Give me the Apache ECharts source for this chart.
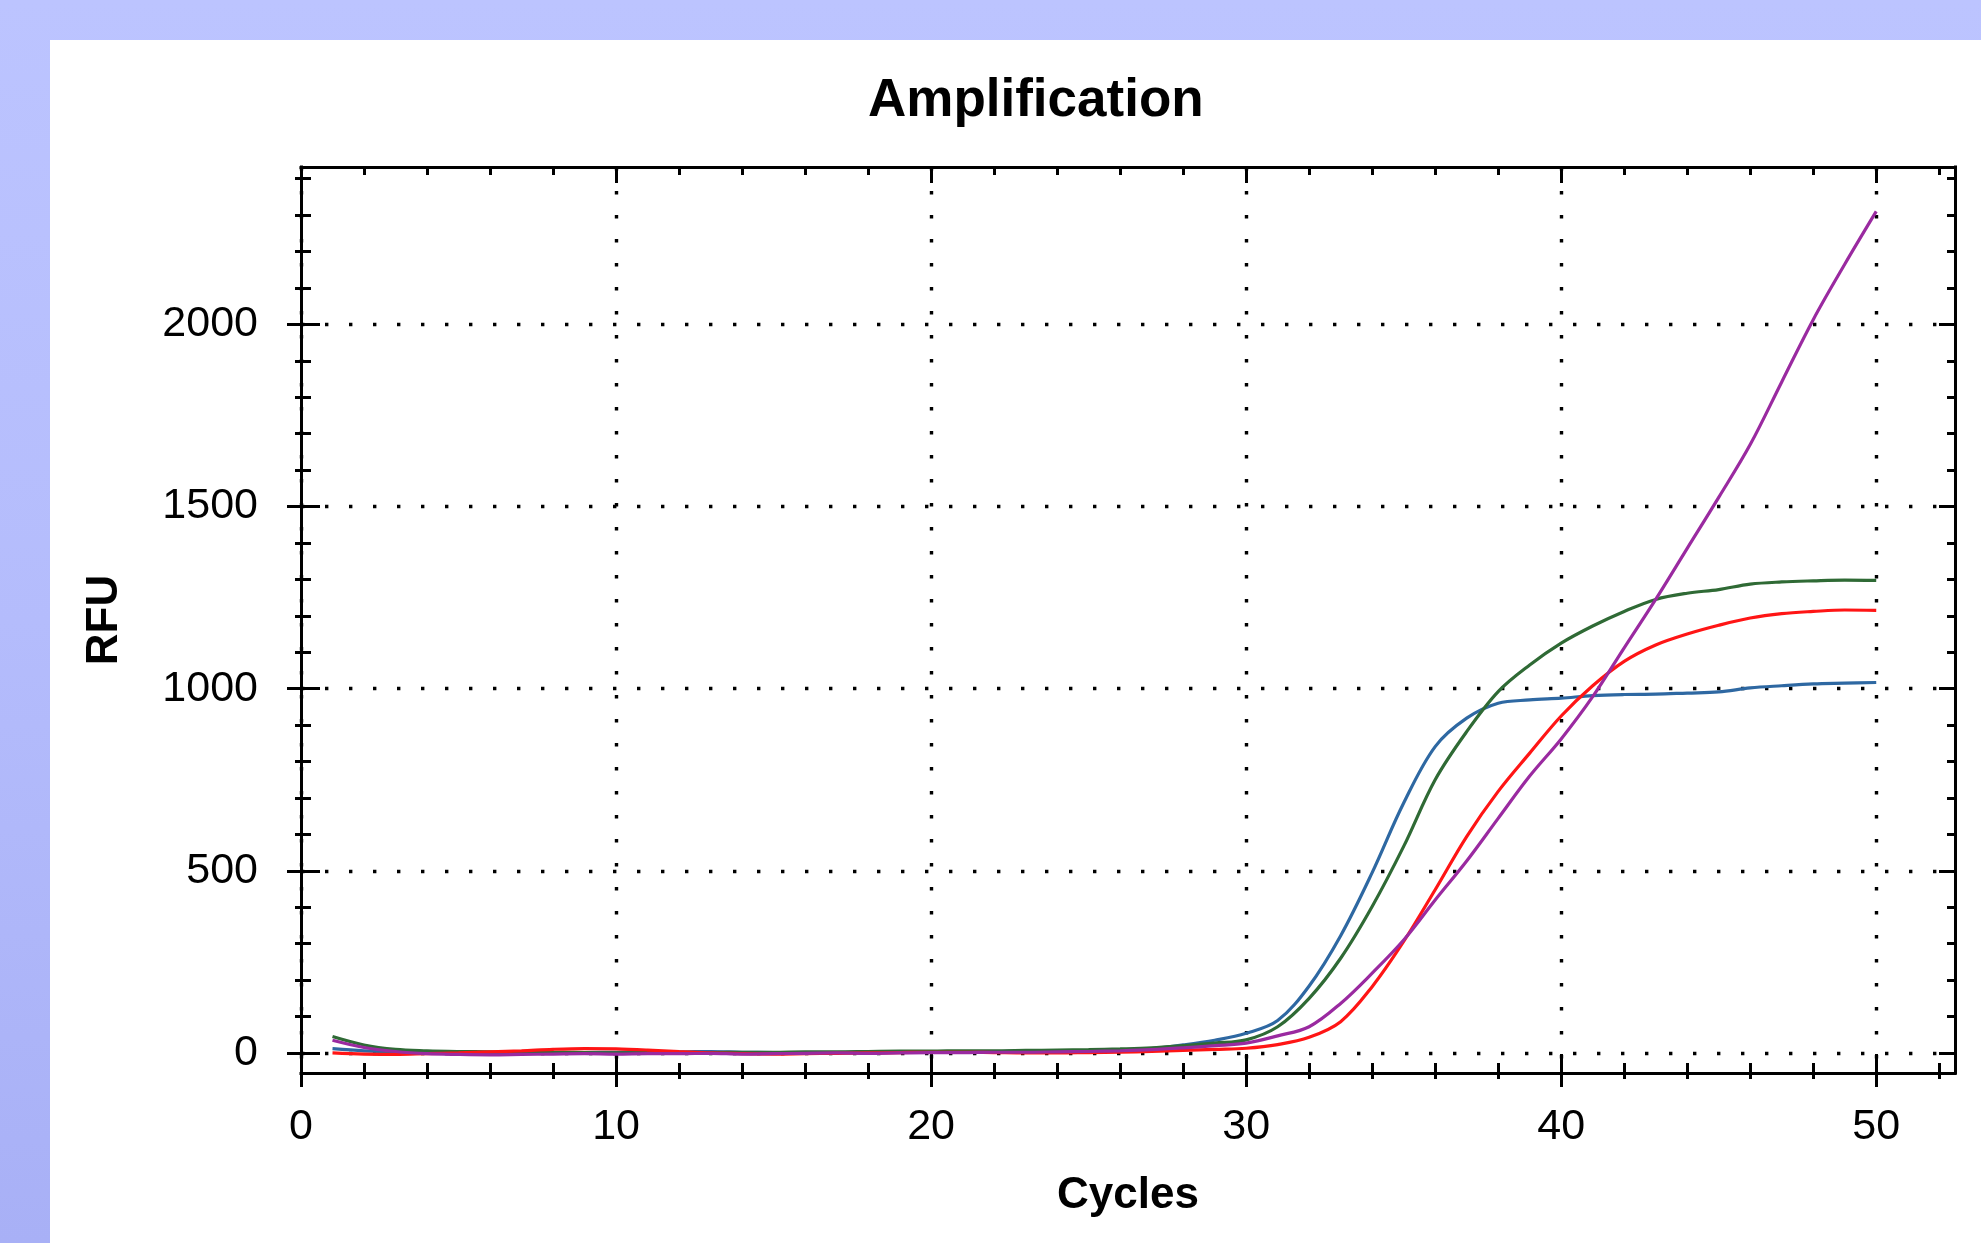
<!DOCTYPE html>
<html>
<head>
<meta charset="utf-8">
<script src="https://cdn.jsdelivr.net/npm/echarts@6/dist/echarts.min.js"></script>
<style>
  html, body { margin: 0; padding: 0; width: 1981px; height: 1243px; overflow: hidden;
    background: linear-gradient(to bottom, #bcc4ff 0%, #b4bcfc 50%, #a8b0f6 100%); }
  #panel { position: absolute; left: 50px; top: 40px; right: 0; bottom: 0; background: #ffffff; }
  #chart { position: absolute; left: 0; top: 0; width: 1981px; height: 1243px; }
</style>
</head>
<body>
<div id="panel"></div>
<div id="chart"></div>
<script>
// ---------- data ----------
const cycles = [1,2,3,4,5,6,7,8,9,10,11,12,13,14,15,16,17,18,19,20,21,22,23,24,25,26,27,28,29,30,31,32,33,34,35,36,37,38,39,40,41,42,43,44,45,46,47,48,49,50];
const blueRFU = [12,6,3,2,1,0,-1,0,1,2,3,3,4,2,1,0,1,2,3,3,4,4,5,5,6,8,12,22,35,54,89,184,322,495,686,841,919,960,969,974,981,984,985,988,991,1002,1008,1013,1015,1017];
const greenRFU = [45,22,10,6,4,3,2,2,1,0,0,1,1,2,2,3,3,4,5,5,6,6,7,8,9,11,14,20,27,36,72,150,260,402,567,750,882,992,1065,1125,1172,1212,1245,1262,1272,1287,1293,1296,1298,1297];
const redRFU = [0,-3,-4,-2,0,3,6,10,12,11,8,4,0,-2,-3,-2,-1,0,1,2,2,1,0,0,1,2,4,7,10,13,23,43,86,182,306,448,594,718,823,925,1008,1075,1120,1150,1174,1194,1206,1212,1216,1215];
const purpleRFU = [35,15,4,-2,-4,-5,-4,-3,-2,-3,-2,-2,-1,-3,-2,-1,0,-1,0,1,1,2,2,3,4,6,9,14,20,27,47,72,136,219,310,420,527,644,760,862,978,1112,1245,1385,1525,1670,1842,2013,2165,2310];

const xTickLabels = [0,10,20,30,40,50];
const xMinorTicks = [2,4,6,8,12,14,16,18,22,24,26,28,32,34,36,38,42,44,46,48,52];
const yTickLabels = [0,500,1000,1500,2000];
const yMinorTicks = [100,200,300,400,600,700,800,900,1100,1200,1300,1400,1600,1700,1800,1900,2100,2200,2300,2400];

const X_MIN = 0, X_MAX = 52.5, Y_MIN = -55, Y_MAX = 2432;

// ---------- helpers ----------
const FONT = 'Liberation Sans, Arial, sans-serif';
const black = '#000000';
const dotted = { show: true, lineStyle: { color: black, width: 3.4, type: [3.4, 20.6] } };

function tickAxis(kind, position, ticks, inside, length, extra) {
  const ax = {
    type: 'value',
    position: position,
    min: kind === 'x' ? X_MIN : Y_MIN,
    max: kind === 'x' ? X_MAX : Y_MAX,
    axisLine: { show: false, onZero: false },
    axisTick: { show: true, inside: inside, length: length, customValues: ticks,
                lineStyle: { color: black, width: 3 } },
    axisLabel: { show: false },
    splitLine: { show: false },
    splitArea: { show: false }
  };
  return Object.assign(ax, extra || {});
}
function frameLine() {
  return { show: true, onZero: false, lineStyle: { color: black, width: 3, cap: 'square' } };
}

const seriesDefs = [
  { name: 'Blue', data: blueRFU, color: '#2e68a2' },
  { name: 'Green', data: greenRFU, color: '#2f6a35' },
  { name: 'Red', data: redRFU, color: '#ff1515' },
  { name: 'Purple', data: purpleRFU, color: '#9a2aa0' }
];

const chart = echarts.init(document.getElementById('chart'), null, { renderer: 'canvas' });

const option = {
  backgroundColor: 'transparent',
  animation: false,
  title: {
    text: 'Amplification',
    left: 868, top: 75, padding: 0,
    textStyle: { fontFamily: FONT, fontSize: 53, fontWeight: 'bold', color: black }
  },
  grid: { left: 301, right: 26, top: 167, bottom: 170, containLabel: false, outerBoundsMode: 'none' },
  xAxis: [
    tickAxis('x', 'bottom', xTickLabels, true, 19, {
      axisLine: frameLine(),
      axisLabel: { show: true, customValues: xTickLabels, margin: 33, color: black,
                   fontFamily: FONT, fontSize: 43, formatter: v => String(v) },
      splitLine: dotted,
      name: 'Cycles', nameLocation: 'middle', nameGap: 101,
      nameTextStyle: { fontFamily: FONT, fontSize: 44, fontWeight: 'bold', color: black }
    }),
    tickAxis('x', 'bottom', xTickLabels, false, 14),
    tickAxis('x', 'bottom', xMinorTicks, true, 10),
    tickAxis('x', 'bottom', xMinorTicks, false, 6),
    tickAxis('x', 'top', xTickLabels, true, 16, { axisLine: frameLine() }),
    tickAxis('x', 'top', xMinorTicks, true, 8)
  ],
  yAxis: [
    tickAxis('y', 'left', yTickLabels, true, 19, {
      axisLine: frameLine(),
      axisLabel: { show: true, customValues: yTickLabels, margin: 43, color: black,
                   fontFamily: FONT, fontSize: 43, formatter: v => String(v),
                   padding: [0, 0, 12, 0] },
      splitLine: dotted,
      name: 'RFU', nameLocation: 'middle', nameGap: 174, nameRotate: 90,
      nameTextStyle: { fontFamily: FONT, fontSize: 44, fontWeight: 'bold', color: black }
    }),
    tickAxis('y', 'left', yTickLabels, false, 14),
    tickAxis('y', 'left', yMinorTicks, true, 10),
    tickAxis('y', 'left', yMinorTicks, false, 6),
    tickAxis('y', 'right', yTickLabels, true, 16, { axisLine: frameLine() }),
    tickAxis('y', 'right', yMinorTicks, true, 8)
  ],
  series: seriesDefs.map(s => ({
    name: s.name,
    type: 'line',
    xAxisIndex: 0,
    yAxisIndex: 0,
    data: cycles.map((c, i) => [c, s.data[i]]),
    showSymbol: false,
    smooth: 0.35,
    lineStyle: { color: s.color, width: 3.2 },
    itemStyle: { color: s.color },
    emphasis: { disabled: true },
    z: 3
  }))
};

chart.setOption(option);
</script>
</body>
</html>
